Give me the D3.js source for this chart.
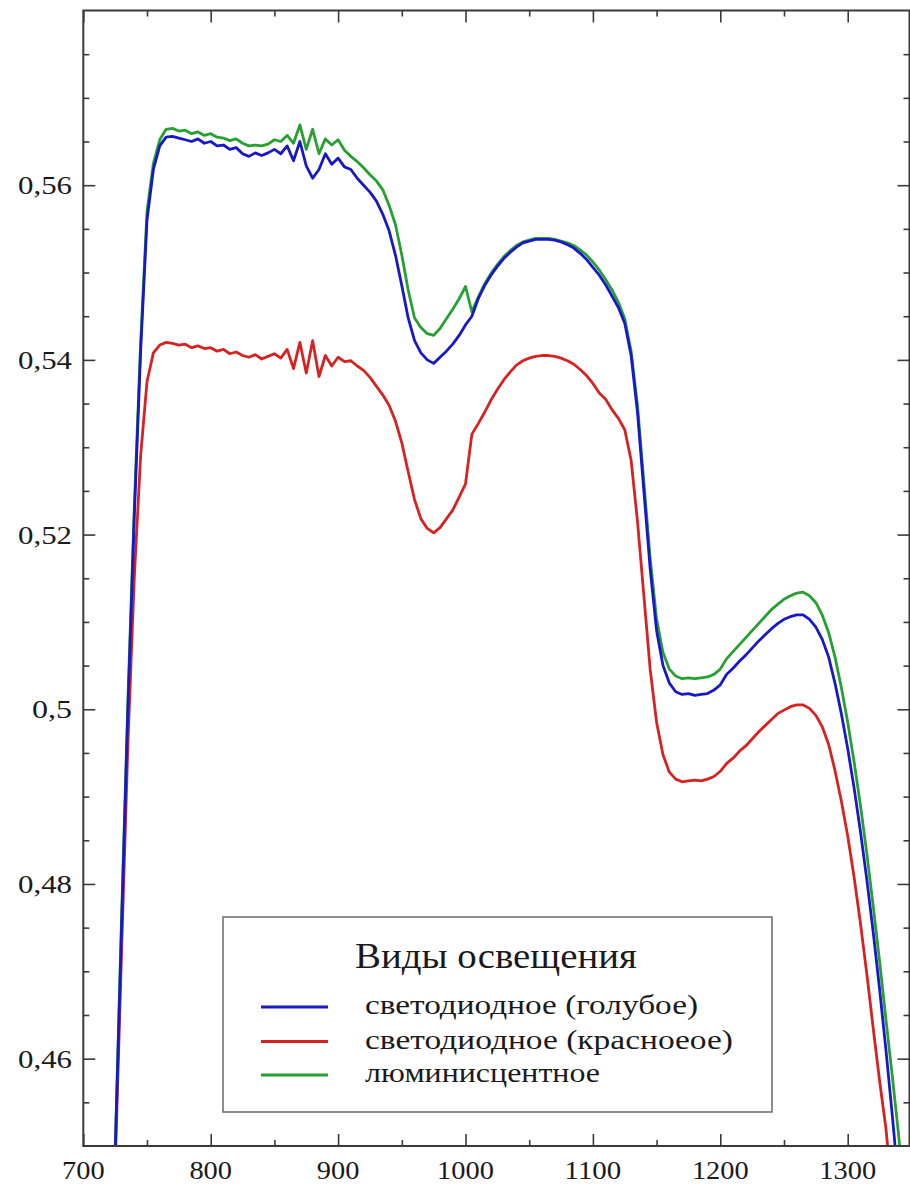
<!DOCTYPE html>
<html>
<head>
<meta charset="utf-8">
<script src="https://cdn.jsdelivr.net/npm/d3@7"></script>
<style>
  html, body { margin: 0; padding: 0; background: #ffffff; }
  svg { display: block; }
</style>
</head>
<body>
<svg id="chart" width="910" height="1186"></svg>
<script>
// Wavelength grid, nm
const wavelengths = d3.range(725, 1346, 5);

// Reflectance under LED (blue) lighting
const ledBlue = [
  0.4490, 0.4750, 0.5000, 0.5220, 0.5410, 0.5560, 0.5618, 0.5645, 0.5655, 0.5656,
  0.5654, 0.5652, 0.5650, 0.5653, 0.5648, 0.5650, 0.5645, 0.5646, 0.5641, 0.5643,
  0.5636, 0.5633, 0.5637, 0.5634, 0.5637, 0.5641, 0.5636, 0.5645, 0.5628, 0.5650,
  0.5622, 0.5608, 0.5618, 0.5636, 0.5624, 0.5631, 0.5621, 0.5618, 0.5608, 0.5600,
  0.5592, 0.5582, 0.5567, 0.5548, 0.5520, 0.5485, 0.5448, 0.5422, 0.5408, 0.5400,
  0.5396, 0.5403, 0.5410, 0.5418, 0.5428, 0.5440, 0.5450, 0.5470, 0.5485, 0.5497,
  0.5507, 0.5516, 0.5523, 0.5529, 0.5534, 0.5536, 0.5538, 0.5538, 0.5538, 0.5537,
  0.5535, 0.5532, 0.5528, 0.5522, 0.5515, 0.5506, 0.5497, 0.5486, 0.5473, 0.5460,
  0.5442, 0.5405, 0.5340, 0.5250, 0.5160, 0.5090, 0.5050, 0.5030, 0.5020, 0.5017,
  0.5018, 0.5016, 0.5017, 0.5018, 0.5022, 0.5028, 0.5040, 0.5047, 0.5055, 0.5062,
  0.5070, 0.5078, 0.5085, 0.5092, 0.5098, 0.5103, 0.5106, 0.5108, 0.5108, 0.5103,
  0.5094, 0.5080, 0.5060, 0.5030, 0.4995, 0.4955, 0.4910, 0.4860, 0.4805, 0.4745,
  0.4680, 0.4610, 0.4535, 0.4455, 0.4370
];

// Reflectance under LED (red) lighting
const ledRed = [
  0.4475, 0.4720, 0.4960, 0.5150, 0.5290, 0.5375, 0.5408, 0.5417, 0.5420, 0.5419,
  0.5417, 0.5418, 0.5414, 0.5416, 0.5413, 0.5414, 0.5410, 0.5412, 0.5407, 0.5409,
  0.5405, 0.5403, 0.5406, 0.5401, 0.5404, 0.5407, 0.5402, 0.5412, 0.5390, 0.5420,
  0.5385, 0.5422, 0.5381, 0.5405, 0.5393, 0.5403, 0.5398, 0.5399, 0.5393, 0.5388,
  0.5380, 0.5370, 0.5360, 0.5348, 0.5330, 0.5305, 0.5272, 0.5240, 0.5218, 0.5207,
  0.5202, 0.5208, 0.5218, 0.5228, 0.5243, 0.5258, 0.5315, 0.5327, 0.5340, 0.5354,
  0.5366, 0.5377, 0.5386, 0.5394, 0.5399, 0.5402, 0.5404, 0.5405, 0.5405, 0.5404,
  0.5402, 0.5399, 0.5395, 0.5389, 0.5382, 0.5373, 0.5362, 0.5355, 0.5343, 0.5333,
  0.5320, 0.5285, 0.5215, 0.5130, 0.5045, 0.4985, 0.4948, 0.4928, 0.4920, 0.4917,
  0.4918, 0.4919, 0.4918, 0.4920, 0.4923, 0.4929, 0.4938, 0.4944, 0.4952, 0.4958,
  0.4966, 0.4974, 0.4981, 0.4988, 0.4995, 0.4999, 0.5003, 0.5005, 0.5005, 0.5001,
  0.4993, 0.4980, 0.4960, 0.4930, 0.4895, 0.4855, 0.4808, 0.4755, 0.4697, 0.4635,
  0.4575, 0.4520, 0.4445, 0.4360, 0.4280
];

// Reflectance under fluorescent lighting
const fluorescent = [
  0.4495, 0.4760, 0.5010, 0.5230, 0.5420, 0.5570, 0.5625, 0.5652, 0.5664, 0.5665,
  0.5662, 0.5663, 0.5659, 0.5661, 0.5657, 0.5659, 0.5655, 0.5654, 0.5651, 0.5653,
  0.5648, 0.5645, 0.5646, 0.5645, 0.5647, 0.5652, 0.5650, 0.5657, 0.5648, 0.5669,
  0.5641, 0.5664, 0.5636, 0.5653, 0.5646, 0.5652, 0.5640, 0.5633, 0.5627, 0.5620,
  0.5612, 0.5605, 0.5595, 0.5577, 0.5555, 0.5520, 0.5480, 0.5448, 0.5437, 0.5430,
  0.5428, 0.5436, 0.5447, 0.5458, 0.5470, 0.5484, 0.5455, 0.5472, 0.5487, 0.5499,
  0.5509, 0.5518, 0.5525, 0.5531, 0.5535, 0.5537, 0.5539, 0.5539, 0.5539, 0.5538,
  0.5536, 0.5534, 0.5531, 0.5526, 0.5520, 0.5512, 0.5503, 0.5492, 0.5480, 0.5466,
  0.5447, 0.5410, 0.5348, 0.5260, 0.5172, 0.5103, 0.5065, 0.5046, 0.5038, 0.5035,
  0.5036, 0.5035, 0.5036, 0.5037, 0.5040, 0.5046, 0.5058, 0.5066, 0.5074, 0.5082,
  0.5090, 0.5098, 0.5106, 0.5114, 0.5120, 0.5126, 0.5130, 0.5133, 0.5134, 0.5130,
  0.5122, 0.5108, 0.5088, 0.5060, 0.5025, 0.4985, 0.4940, 0.4890, 0.4835, 0.4775,
  0.4712, 0.4645, 0.4580, 0.4512, 0.4430
];

const xTickValues = [700, 800, 900, 1000, 1100, 1200, 1300];
const yTickValues = [0.46, 0.48, 0.5, 0.52, 0.54, 0.56];
const legendTitle = "Виды освещения";
const seriesNames = ["светодиодное (голубое)", "светодиодное (красноеое)", "люминисцентное"];
const seriesColors = ["#1818c8", "#d82222", "#26a030"];

const series = [
  { name: seriesNames[0], color: seriesColors[0], values: ledBlue },
  { name: seriesNames[1], color: seriesColors[1], values: ledRed },
  { name: seriesNames[2], color: seriesColors[2], values: fluorescent }
];

// Pick the first serif face that is actually installed
function hasFont(name) {
  const ctx = document.createElement("canvas").getContext("2d");
  const probe = "Виды освещения 0123456789 mmwwii";
  return ["monospace", "sans-serif"].every(base => {
    ctx.font = `40px ${base}`;
    const w0 = ctx.measureText(probe).width;
    ctx.font = `40px '${name}', ${base}`;
    return Math.abs(ctx.measureText(probe).width - w0) > 0.5;
  });
}
const serifFace = ["Liberation Serif", "DejaVu Serif", "Times New Roman", "Tinos", "Noto Serif", "FreeSerif"]
  .find(hasFont);
const isSerif = !!serifFace;
const fontStack = isSerif ? `'${serifFace}', serif` : "'Liberation Sans', 'DejaVu Sans', sans-serif";
const fs = isSerif
  ? { tick: 26, title: 36, entry: 28 }
  : { tick: 24, title: 31, entry: 24 };

const svg = d3.select("#chart").attr("font-family", fontStack);
const plotLeft = 83.3, plotRight = 909.5, plotTop = 10.5, plotBottom = 1146;

const x = d3.scaleLinear().domain([700, 1348.5]).range([plotLeft, plotRight]);
const y = d3.scaleLinear().domain([0.45, 0.58]).range([plotBottom, plotTop]);

const frameColor = "#3a3a3a";
const textColor = "#1a1a1a";
const majorLen = 12, minorLen = 6;

// Clip region for the curves
svg.append("defs").append("clipPath").attr("id", "plotClip")
  .append("rect").attr("x", plotLeft).attr("y", plotTop)
  .attr("width", plotRight - plotLeft).attr("height", plotBottom - plotTop);

// Curves: red first, then green, blue on top
const line = d3.line()
  .x((d, i) => x(wavelengths[i]))
  .y(d => y(d));

const curves = svg.append("g").attr("clip-path", "url(#plotClip)");
[series[1], series[2], series[0]].forEach(s => {
  curves.append("path")
    .datum(s.values)
    .attr("fill", "none")
    .attr("stroke", s.color)
    .attr("stroke-width", 2.8)
    .attr("stroke-linejoin", "round")
    .attr("d", line);
});

// Axes with inward ticks on all four sides
const xMinor = d3.range(750, 1348, 100);
const yMinor = d3.range(0.455, 0.5801, 0.005)
  .filter(v => !yTickValues.some(t => Math.abs(t - v) < 1e-6) && Math.abs(v - 0.58) > 1e-6);

function styleAxis(g) {
  g.select(".domain").remove();
  g.selectAll(".tick line").attr("stroke", frameColor).attr("stroke-width", 1.6);
}

function drawTicks(axisFn, scale, values, len, transform) {
  svg.append("g").attr("transform", transform)
    .call(axisFn(scale).tickValues(values).tickSize(-len).tickFormat(""))
    .call(styleAxis);
}

drawTicks(d3.axisBottom, x, xTickValues, majorLen, `translate(0,${plotBottom})`);
drawTicks(d3.axisTop, x, xTickValues, majorLen, `translate(0,${plotTop})`);
drawTicks(d3.axisLeft, y, yTickValues, majorLen, `translate(${plotLeft},0)`);
drawTicks(d3.axisRight, y, yTickValues, majorLen, `translate(${plotRight},0)`);
drawTicks(d3.axisBottom, x, xMinor, minorLen, `translate(0,${plotBottom})`);
drawTicks(d3.axisTop, x, xMinor, minorLen, `translate(0,${plotTop})`);
drawTicks(d3.axisLeft, y, yMinor, minorLen, `translate(${plotLeft},0)`);
drawTicks(d3.axisRight, y, yMinor, minorLen, `translate(${plotRight},0)`);

// Frame
svg.append("rect")
  .attr("x", plotLeft).attr("y", plotTop)
  .attr("width", plotRight - plotLeft).attr("height", plotBottom - plotTop)
  .attr("fill", "none").attr("stroke", frameColor).attr("stroke-width", 2);

// Text helper: fixed font size, glyphs fitted to a set width
function label(g, str, xPos, yPos, size, width, anchor) {
  return g.append("text")
    .attr("x", xPos).attr("y", yPos)
    .attr("text-anchor", anchor || "start")
    .attr("font-family", fontStack)
    .attr("font-size", size)
    .attr("fill", textColor)
    .attr("textLength", width)
    .attr("lengthAdjust", "spacingAndGlyphs")
    .text(str);
}

// Tick labels (decimal comma)
const commaFmt = v => d3.format("~g")(v).replace(".", ",");
const tickLabels = svg.append("g");
xTickValues.forEach(v => {
  const s = String(v);
  label(tickLabels, s, x(v), 1179, fs.tick, s.length * 14.2, "middle");
});
yTickValues.forEach(v => {
  const s = commaFmt(v);
  const w = s.length === 4 ? 54 : 40;
  label(tickLabels, s, 72, y(v) + 9, fs.tick, w, "end");
});

// Legend
const legend = svg.append("g");
legend.append("rect")
  .attr("x", 223).attr("y", 917).attr("width", 549).attr("height", 195)
  .attr("fill", "#ffffff").attr("stroke", "#6a6a6a").attr("stroke-width", 1.5);

label(legend, legendTitle, 496, 968, fs.title, 282, "middle");

const rowY = [1007, 1041.5, 1075];
const entryWidths = [333, 368, 235];
series.forEach((s, i) => {
  legend.append("line")
    .attr("x1", 261).attr("x2", 328)
    .attr("y1", rowY[i]).attr("y2", rowY[i])
    .attr("stroke", s.color).attr("stroke-width", 2.8);
  label(legend, s.name, 365, rowY[i] + 7, fs.entry, entryWidths[i]);
});
</script>
</body>
</html>
